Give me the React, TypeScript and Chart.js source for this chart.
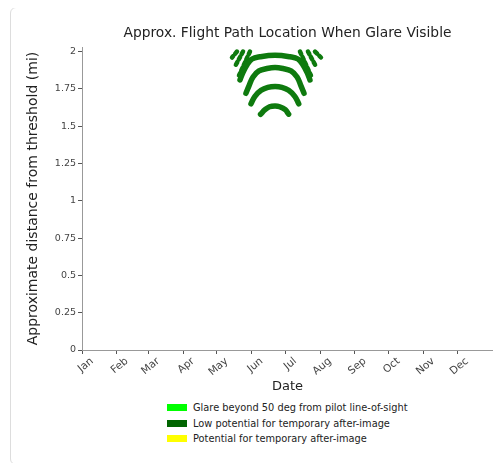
import React, { useEffect, useRef } from "react";
import { Chart, registerables } from "chart.js";

Chart.register(...registerables);

const FONT = "'DejaVu Sans', sans-serif";

const chartTitle = "Approx. Flight Path Location When Glare Visible";
const xAxisTitle = "Date";
const yAxisTitle = "Approximate distance from threshold (mi)";

const monthLabels = ["Jan", "Feb", "Mar", "Apr", "May", "Jun", "Jul", "Aug", "Sep", "Oct", "Nov", "Dec"];
const monthStartDays = [0, 31, 59, 90, 120, 151, 181, 212, 243, 273, 304, 334];
const yTickValues = [0, 0.25, 0.5, 0.75, 1, 1.25, 1.5, 1.75, 2];

// Nested glare arcs (day of year, distance in miles)
const arc1Days = [140.7, 143.4, 146.9, 151.4, 158.5, 171.9, 185.2, 192.3, 196.8, 200.4, 203];
const arc1Miles = [1.81, 1.86, 1.91, 1.95, 1.965, 1.975, 1.965, 1.95, 1.91, 1.86, 1.81];
const arc2Days = [146, 148.7, 152.3, 157.6, 164.7, 171.9, 179, 186.1, 191.5, 195, 197.7];
const arc2Miles = [1.72, 1.77, 1.83, 1.87, 1.886, 1.893, 1.886, 1.87, 1.83, 1.77, 1.72];
const arc3Days = [150.5, 154, 159.5, 165.5, 172, 178, 184, 189.5, 193];
const arc3Miles = [1.65, 1.7, 1.74, 1.76, 1.766, 1.76, 1.74, 1.7, 1.65];
const arc4Days = [159, 163, 167, 172, 176, 181, 184];
const arc4Miles = [1.58, 1.61, 1.63, 1.635, 1.63, 1.61, 1.58];

// Legs of larger arcs cut off at the 2-mile limit
const leftLeg1Days = [149.6, 139.8];
const leftLeg1Miles = [2.0, 1.84];
const leftLeg2Days = [143.4, 136.2];
const leftLeg2Miles = [2.0, 1.9];
const leftLeg3Days = [138, 133.6];
const leftLeg3Miles = [2.0, 1.96];
const rightLeg1Days = [194.1, 203.9];
const rightLeg1Miles = [2.0, 1.84];
const rightLeg2Days = [201.2, 208.4];
const rightLeg2Miles = [2.0, 1.9];
const rightLeg3Days = [207.5, 212.8];
const rightLeg3Miles = [2.0, 1.96];

const legendLabels = [
  "Glare beyond 50 deg from pilot line-of-sight",
  "Low potential for temporary after-image",
  "Potential for temporary after-image",
];
const legendColors = ["#00ff00", "#006400", "#ffff00"];

const GLARE_EDGE = "#0e7a0e";
const GLARE_CORE = "#2aa52a";

function pts(xs: number[], ys: number[]) {
  return xs.map((x, i) => ({ x, y: ys[i] }));
}

export default function App() {
  const canvasRef = useRef<HTMLCanvasElement | null>(null);

  useEffect(() => {
    document.documentElement.style.overflow = "hidden";
    document.body.style.overflow = "hidden";
    const canvas = canvasRef.current;
    if (!canvas) return;

    const arcs = [
      pts(arc1Days, arc1Miles),
      pts(arc2Days, arc2Miles),
      pts(arc3Days, arc3Miles),
      pts(arc4Days, arc4Miles),
    ];
    const legs = [
      pts(leftLeg1Days, leftLeg1Miles),
      pts(leftLeg2Days, leftLeg2Miles),
      pts(leftLeg3Days, leftLeg3Miles),
      pts(rightLeg1Days, rightLeg1Miles),
      pts(rightLeg2Days, rightLeg2Miles),
      pts(rightLeg3Days, rightLeg3Miles),
    ];

    const datasets: any[] = [];
    const base = {
      borderCapStyle: "round",
      borderJoinStyle: "round",
      pointRadius: 0,
      fill: false,
    };
    arcs.forEach((d) => {
      datasets.push({ ...base, data: d, borderColor: GLARE_EDGE, borderWidth: 5.5, tension: 0.4 });
      datasets.push({ ...base, data: d, borderColor: GLARE_CORE, borderWidth: 2.5, tension: 0.4 });
    });
    legs.forEach((d) => {
      datasets.push({ ...base, data: d, borderColor: GLARE_EDGE, borderWidth: 4.5, borderDash: [3, 3], tension: 0 });
    });

    const chart = new Chart(canvas, {
      type: "line",
      data: { datasets },
      options: {
        responsive: false,
        animation: false,
        layout: { padding: { left: 8, right: 4, top: 0, bottom: 0 } },
        plugins: {
          legend: { display: false },
          tooltip: { enabled: false },
          title: {
            display: true,
            fullSize: false,
            text: chartTitle,
            color: "#222",
            font: { family: FONT, size: 13.8, weight: "normal" },
            padding: { top: 17, bottom: 5.5 },
          },
        },
        scales: {
          x: {
            type: "linear",
            min: 0,
            max: 366,
            afterBuildTicks: (s: any) => {
              s.ticks = monthStartDays.map((v) => ({ value: v }));
            },
            afterFit: (s: any) => {
              s.height = 50;
            },
            ticks: {
              callback: (_v: any, i: number) => monthLabels[i],
              minRotation: 40,
              maxRotation: 40,
              labelOffset: 10,
              padding: 1,
              color: "#444",
              font: { family: FONT, size: 10.5 },
            },
            grid: { drawOnChartArea: false, drawTicks: true, tickLength: 4, color: "#555" },
            border: { display: true, color: "#999", width: 1 },
            title: {
              display: true,
              text: xAxisTitle,
              color: "#222",
              font: { family: FONT, size: 13 },
              padding: { top: 0, bottom: 6 },
            },
          },
          y: {
            type: "linear",
            min: 0,
            max: 2.03,
            afterBuildTicks: (s: any) => {
              s.ticks = yTickValues.map((v) => ({ value: v }));
            },
            afterFit: (s: any) => {
              s.width = 63;
            },
            ticks: {
              callback: (v: any) => String(v),
              padding: 2,
              color: "#444",
              font: { family: FONT, size: 9.5 },
            },
            grid: { drawOnChartArea: false, drawTicks: true, tickLength: 4, color: "#555" },
            border: { display: true, color: "#999", width: 1 },
            title: {
              display: true,
              text: yAxisTitle,
              color: "#222",
              font: { family: FONT, size: 14 },
              padding: { top: 6, bottom: 0 },
            },
          },
        },
      } as any,
    });

    return () => chart.destroy();
  }, []);

  return (
    <div
      style={{
        position: "relative",
        width: 489,
        height: 458,
        margin: "-1px 0 0 2px",
        border: "1px solid #ddd",
        borderRadius: 6,
        boxSizing: "border-box",
        background: "#fff",
      }}
    >
      <canvas
        ref={canvasRef}
        width={486}
        height={392}
        style={{ position: "absolute", left: 0, top: 0, width: 486, height: 392 }}
      />
      <div
        style={{
          position: "absolute",
          left: 156,
          top: 392,
          fontFamily: FONT,
          fontSize: 9.8,
          color: "#222",
        }}
      >
        {legendLabels.map((label, i) => (
          <div key={label} style={{ display: "flex", alignItems: "center", height: 15.5, whiteSpace: "nowrap" }}>
            <span
              style={{
                display: "inline-block",
                width: 20,
                height: 7,
                background: legendColors[i],
                marginRight: 6,
                flex: "none",
              }}
            />
            <span>{label}</span>
          </div>
        ))}
      </div>
    </div>
  );
}
